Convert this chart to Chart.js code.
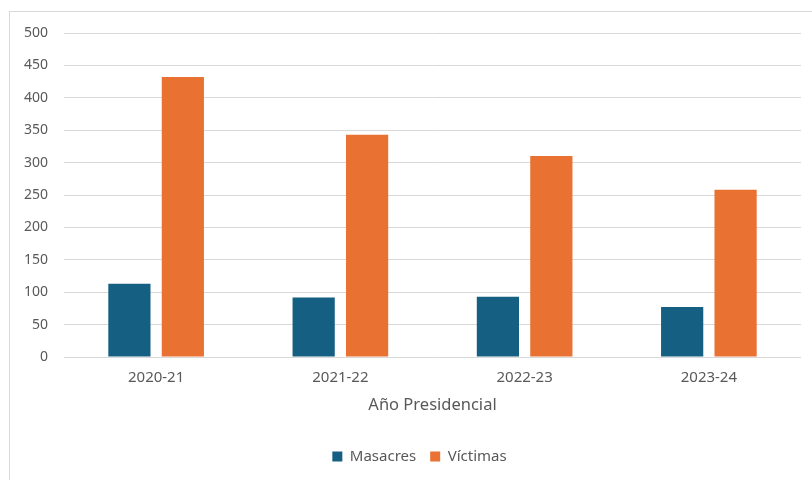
<!DOCTYPE html>
<html>
<head>
<meta charset="utf-8">
<script src="https://cdn.jsdelivr.net/npm/chart.js@4"></script>
<style>
  body { margin: 0; background: #fff; }
  #wrap { position: relative; width: 812px; height: 480px; overflow: hidden; }
  #frame { position: absolute; left: 9px; top: 11px; width: 900px; height: 600px; border: 1px solid #d9d9d9; box-sizing: border-box; }
  canvas { position: absolute; left: 0; top: 0; }
</style>
</head>
<body>
<div id="wrap">
  <div id="frame"></div>
  <canvas id="chart" width="812" height="480"></canvas>
</div>
<script>
// data
var years = ['2020-21', '2021-22', '2022-23', '2023-24'];
var masacres = [113, 92, 93, 77];
var victimas = [432, 343, 310, 258];

var textColor = '#595959';
var fontName = "'Noto Sans', sans-serif";

// the original chart is wider than the crop, so its legend sits a bit right of centre
var legendShift = {
  id: 'legendShift',
  afterLayout: function(chart) {
    chart.legend.left += 19;
    chart.legend.right += 19;
  }
};

var ctx = document.getElementById('chart').getContext('2d');
var chart = new Chart(ctx, {
  type: 'bar',
  data: {
    labels: years,
    datasets: [
      {
        label: 'Masacres',
        data: masacres,
        backgroundColor: '#156082',
        categoryPercentage: 0.58,
        barPercentage: 0.79
      },
      {
        label: 'Víctimas',
        data: victimas,
        backgroundColor: '#E97132',
        categoryPercentage: 0.58,
        barPercentage: 0.79
      }
    ]
  },
  options: {
    responsive: false,
    animation: false,
    layout: { padding: { left: 0, right: 11, top: 33, bottom: 6 } },
    plugins: {
      tooltip: { enabled: false },
      legend: {
        position: 'bottom',
        labels: {
          color: textColor,
          font: { family: fontName, size: 15 },
          boxWidth: 10,
          boxHeight: 10,
          padding: 14
        }
      }
    },
    scales: {
      x: {
        grid: { display: false, drawTicks: false },
        border: { display: false },
        ticks: { color: textColor, font: { family: fontName, size: 15 }, padding: 12 },
        title: {
          display: true,
          text: 'Año Presidencial',
          color: textColor,
          font: { family: fontName, size: 16.5 },
          padding: { top: 6, bottom: 20 }
        },
        afterFit: function(scale) { scale.height = 78; }
      },
      y: {
        min: 0,
        max: 500,
        ticks: { stepSize: 50, color: textColor, font: { family: fontName, size: 14 }, padding: 16 },
        grid: { color: '#d9d9d9', lineWidth: 1, drawTicks: false },
        border: { display: false },
        afterFit: function(scale) { scale.width = 64; }
      }
    }
  },
  plugins: [legendShift]
});
</script>
</body>
</html>
